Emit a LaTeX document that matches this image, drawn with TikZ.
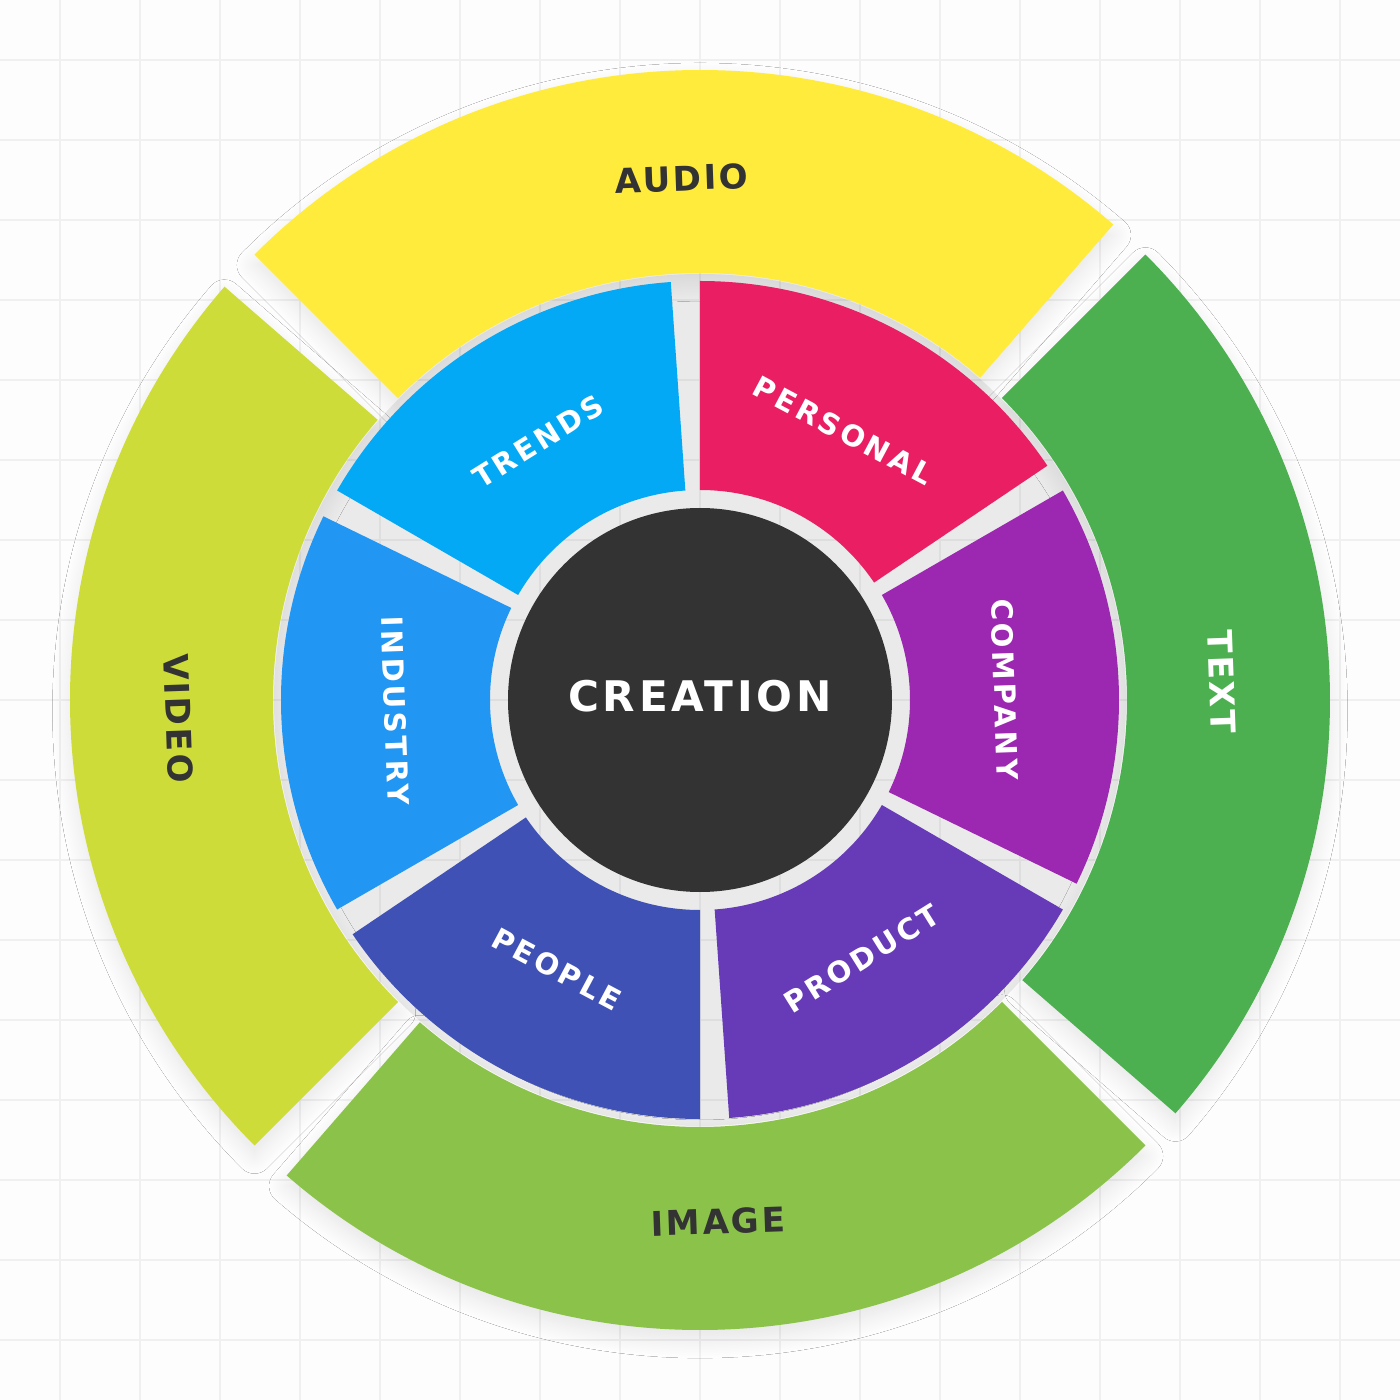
\documentclass[tikz,border=0pt]{standalone}
\usepackage{fontspec}
\setmainfont{DejaVu Sans}
\newfontfamily\hubfont[LetterSpace=9]{DejaVu Sans}
\newfontfamily\ringfont[LetterSpace=7]{DejaVu Sans}
\newfontfamily\petalfont[LetterSpace=11]{DejaVu Sans}
\usetikzlibrary{shadows.blur}
\definecolor{paper}{HTML}{FDFDFD}
\definecolor{gridcol}{HTML}{F0F0F0}
\definecolor{ink}{HTML}{333333}
\definecolor{audio}{HTML}{FFEB3B}
\definecolor{textc}{HTML}{4CAF50}
\definecolor{image}{HTML}{8BC34A}
\definecolor{video}{HTML}{CDDC39}
\definecolor{personal}{HTML}{E91E63}
\definecolor{trends}{HTML}{03A9F4}
\definecolor{industry}{HTML}{2196F3}
\definecolor{people}{HTML}{3F51B5}
\definecolor{product}{HTML}{673AB7}
\definecolor{company}{HTML}{9C27B0}
\tikzset{
  outerseg/.style={blur shadow={shadow xshift=0pt, shadow yshift=-3pt, shadow blur radius=5pt, shadow blur steps=12, shadow opacity=9}},
  ringlbl/.style={font=\ringfont\bfseries\fontsize{9.7pt}{11pt}\selectfont, inner sep=0pt},
  petallbl/.style={font=\petalfont\bfseries\fontsize{8.3pt}{10pt}\selectfont, text=white, inner sep=0pt},
  hublbl/.style={font=\hubfont\bfseries\fontsize{12pt}{14pt}\selectfont, text=white, inner sep=0pt},
}

\begin{document}
\begin{tikzpicture}
\useasboundingbox (-7,-7) rectangle (7,7);
\fill[paper] (-7,-7) rectangle (7,7);
\foreach \g in {-6.4,-5.6,...,6.4} {
  \draw[gridcol, line width=0.6pt] (\g,-7) -- (\g,7);
  \draw[gridcol, line width=0.6pt] (-7,\g) -- (7,\g);
}
% outer ring: media
\foreach \a/\col/\txt/\tc/\rot in {49/audio/AUDIO/ink/2, 139/video/VIDEO/ink/-88, 229/image/IMAGE/ink/2, 319/textc/TEXT/white/-88} {
  \pgfmathsetmacro{\b}{\a+86}
  \pgfmathsetmacro{\m}{\a+43}
  \fill[outerseg, fill=\col] (\a:4.27) -- (\a:6.3) arc[start angle=\a, end angle=\b, radius=6.3]
    -- (\b:4.27) arc[start angle=\b, end angle=\a, radius=4.27] -- cycle;
  \node[ringlbl, text=\tc, rotate=\rot] (ring-\txt) at (\m:5.22) {\txt};
}
\fill[black, fill opacity=0.075] (0,0) circle[radius=4.26];
% inner ring: sources
\foreach \a/\col/\txt/\rot in {34/personal/PERSONAL/-28, 94/trends/TRENDS/32, 154/industry/INDUSTRY/-88, 214/people/PEOPLE/-28, 274/product/PRODUCT/32, 334/company/COMPANY/-88} {
  \pgfmathsetmacro{\b}{\a+56}
  \pgfmathsetmacro{\m}{\a+28}
  \fill[fill=\col] (\a:2.1) -- (\a:4.19) arc[start angle=\a, end angle=\b, radius=4.19]
    -- (\b:2.1) arc[start angle=\b, end angle=\a, radius=2.1] -- cycle;
  \node[petallbl, rotate=\rot] (petal-\txt) at (\m:3.05) {\txt};
}
\fill[ink] (0,0) circle[radius=1.92];
\node[hublbl] (hub) at (0,0.04) {CREATION};
\end{tikzpicture}
\end{document}
